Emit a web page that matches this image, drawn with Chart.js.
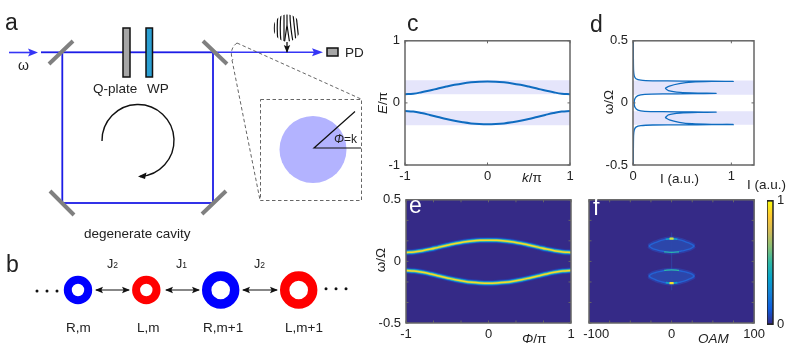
<!DOCTYPE html>
<html>
<head>
<meta charset="utf-8">
<title>Cavity band structure</title>
<script src="https://cdn.jsdelivr.net/npm/chart.js@4"></script>
<style>
  html, body { margin: 0; padding: 0; background: #fff; }
  #page { position: relative; width: 789px; height: 350px; overflow: hidden; font-family: "Liberation Sans", Arial, sans-serif; }
  canvas { position: absolute; }
  svg { position: absolute; left: 0; top: 0; }
  svg text { font-family: "Liberation Sans", Arial, sans-serif; fill: #222; }
</style>
</head>
<body>
<div id="page">
  <canvas id="chartC"></canvas>
  <canvas id="chartD"></canvas>
  <canvas id="chartE"></canvas>
  <canvas id="chartF"></canvas>
  <canvas id="chartBar"></canvas>

  <svg width="789" height="350" viewBox="0 0 789 350">
    <defs>
      <marker id="head" viewBox="0 0 8 8" refX="7" refY="4" markerWidth="8" markerHeight="8" markerUnits="userSpaceOnUse" orient="auto-start-reverse">
        <path d="M0 0.8 L8 4 L0 7.2 L1.6 4 Z" fill="#111"/>
      </marker>
      <clipPath id="fringeClip"><circle cx="287" cy="28" r="13.5"/></clipPath>
    </defs>

    <!-- a: cavity -->
    <text x="5" y="30" font-size="23">a</text>
    <path d="M9 52.5 H33" stroke="#3535f5" stroke-width="1.6"/>
    <path d="M28 48.5 L38 52.5 L28 56.5 L30 52.5 Z" fill="#3535f5"/>
    <rect x="62.3" y="52.3" width="150.7" height="150.7" fill="none" stroke="#1c1ce6" stroke-width="1.8"/>
    <path d="M41 52.3 H62" stroke="#1c1ce6" stroke-width="1.8"/>
    <path d="M213 52.3 H316" stroke="#3535f5" stroke-width="1.6"/>
    <path d="M312 48.3 L323 52.3 L312 56.3 L314 52.3 Z" fill="#3535f5"/>
    <path d="M49 64 L73 41 M203 41 L227 64 M50 191 L74 215 M202 214 L226 191" stroke="#808080" stroke-width="4" fill="none"/>
    <rect x="123" y="28" width="7" height="49" fill="#a6a6a6" stroke="#111" stroke-width="1.5"/>
    <rect x="146" y="28" width="6.5" height="49" fill="#2b9fd2" stroke="#111" stroke-width="1.5"/>
    <text x="93" y="93" font-size="13.5">Q-plate</text>
    <text x="147" y="93" font-size="13.5">WP</text>
    <text x="18" y="70" font-size="14">ω</text>
    <path d="M102 141 A36 36 0 1 1 140 176.5" fill="none" stroke="#111" stroke-width="1.4"/>
    <path d="M138 176.5 L146.5 172.5 L145 179 Z" fill="#111"/>
    <text x="84" y="238" font-size="13.5">degenerate cavity</text>

    <!-- a: forked fringes and detector -->
    <g clip-path="url(#fringeClip)" fill="none" stroke="#111" stroke-width="1.2">
      <path d="M275 14 Q273.5 28 275 42"/>
      <path d="M278 14 Q276.5 28 278 42"/>
      <path d="M281 14 Q279.5 28 281 42"/>
      <path d="M284 14 Q284 25 284 42"/>
      <path d="M287 14 V25 L284.5 42 M287 25 L289.5 42"/>
      <path d="M290 14 Q290 25 293 42"/>
      <path d="M293 14 Q294.5 28 296 42"/>
      <path d="M296 14 Q297.5 28 299 42"/>
    </g>
    <path d="M287 42 V52" stroke="#111" stroke-width="1.3" marker-end="url(#head)"/>
    <rect x="327" y="48" width="11" height="8" fill="#a6a6a6" stroke="#111" stroke-width="1.5"/>
    <text x="345" y="57" font-size="13.5">PD</text>

    <!-- a: zoomed aperture -->
    <g fill="none" stroke="#555" stroke-width="0.9" stroke-dasharray="3.5 2.5">
      <path d="M237 43 C231 47 230 55 233 60"/>
      <path d="M237 43 L361 99"/>
      <path d="M232 60 L260 200"/>
      <rect x="260.5" y="99.5" width="101" height="101"/>
    </g>
    <circle cx="313" cy="149.5" r="33.5" fill="#b3b3ff"/>
    <path d="M355 111.5 L314 148 H361" fill="none" stroke="#111" stroke-width="1.2"/>
    <text x="334" y="143" font-size="12"><tspan font-style="italic">Φ</tspan>=k</text>

    <!-- b: chain of modes -->
    <text x="6" y="272" font-size="23">b</text>
    <circle cx="78" cy="290" r="10.2" fill="none" stroke="#0000ff" stroke-width="8"/>
    <circle cx="146.3" cy="290" r="10.2" fill="none" stroke="#ff0000" stroke-width="8"/>
    <circle cx="220.7" cy="290" r="14" fill="none" stroke="#0000ff" stroke-width="9.4"/>
    <circle cx="298.7" cy="290" r="14" fill="none" stroke="#ff0000" stroke-width="9.4"/>
    <g fill="#111">
      <circle cx="37" cy="291" r="1.5"/><circle cx="47" cy="291" r="1.5"/><circle cx="57" cy="291" r="1.5"/>
      <circle cx="326" cy="288.7" r="1.5"/><circle cx="336" cy="288.7" r="1.5"/><circle cx="346" cy="288.7" r="1.5"/>
    </g>
    <g stroke="#111" stroke-width="1.2">
      <path d="M96 290 H129" marker-start="url(#head)" marker-end="url(#head)"/>
      <path d="M166 290 H199" marker-start="url(#head)" marker-end="url(#head)"/>
      <path d="M243 290 H277" marker-start="url(#head)" marker-end="url(#head)"/>
    </g>
    <text x="107" y="268" font-size="12.5">J<tspan font-size="8.5">2</tspan></text>
    <text x="176" y="268" font-size="12.5">J<tspan font-size="8.5">1</tspan></text>
    <text x="254" y="268" font-size="12.5">J<tspan font-size="8.5">2</tspan></text>
    <text x="66" y="332" font-size="13.5">R,m</text>
    <text x="137" y="332" font-size="13.5">L,m</text>
    <text x="203" y="332" font-size="13.5">R,m+1</text>
    <text x="285" y="332" font-size="13.5">L,m+1</text>

    <!-- panel letters and axis titles -->
    <text x="407" y="31" font-size="23">c</text>
    <text x="590" y="32" font-size="23">d</text>
    <text x="409" y="213" font-size="23" style="fill:#fff">e</text>
    <text x="593" y="215" font-size="23" style="fill:#fff">f</text>
    <text transform="translate(387 103) rotate(-90)" text-anchor="middle" font-size="13.5"><tspan font-style="italic">E</tspan>/π</text>
    <text x="522" y="182" font-size="13.5"><tspan font-style="italic">k</tspan>/π</text>
    <text transform="translate(613 102) rotate(-90)" text-anchor="middle" font-size="13.5">ω/Ω</text>
    <text x="660" y="183" font-size="13.5">I (a.u.)</text>
    <text transform="translate(385 260) rotate(-90)" text-anchor="middle" font-size="13.5">ω/Ω</text>
    <text x="522" y="343" font-size="13.5"><tspan font-style="italic">Φ</tspan>/π</text>
    <text x="698" y="343" font-size="13.5" font-style="italic">OAM</text>
    <text x="747" y="189" font-size="13.5">I (a.u.)</text>
  </svg>
</div>

<script>
// values
const kValues = [-1, -0.9, -0.8, -0.7, -0.6, -0.5, -0.4, -0.3, -0.2, -0.1, 0, 0.1, 0.2, 0.3, 0.4, 0.5, 0.6, 0.7, 0.8, 0.9, 1];
const bandUpper = [0.14, 0.148, 0.171, 0.2, 0.232, 0.263, 0.291, 0.314, 0.331, 0.342, 0.345, 0.342, 0.331, 0.314, 0.291, 0.263, 0.232, 0.2, 0.171, 0.148, 0.14];
const bandLower = [-0.13, -0.139, -0.163, -0.194, -0.227, -0.26, -0.289, -0.312, -0.33, -0.34, -0.344, -0.34, -0.33, -0.312, -0.289, -0.26, -0.227, -0.194, -0.163, -0.139, -0.13];
const shadeC = [[0.365, 0.14], [-0.13, -0.36]];

const dIntensity = [0.003, 0.004, 0.006, 0.012, 0.03, 0.08, 0.2, 0.5, 0.8, 1.02, 0.8, 0.6, 0.47, 0.37, 0.33, 0.36, 0.48, 0.66, 0.845, 0.6, 0.3, 0.12, 0.05, 0.02, 0.012, 0.02, 0.05, 0.12, 0.3, 0.6, 0.845, 0.66, 0.48, 0.36, 0.33, 0.37, 0.47, 0.6, 0.8, 1.02, 0.8, 0.5, 0.2, 0.08, 0.03, 0.012, 0.006, 0.004, 0.003];
const dOmega = [0.5, 0.35, 0.26, 0.22, 0.195, 0.183, 0.178, 0.176, 0.175, 0.174, 0.173, 0.168, 0.155, 0.135, 0.117, 0.098, 0.084, 0.079, 0.077, 0.074, 0.072, 0.068, 0.058, 0.035, 0, -0.035, -0.058, -0.068, -0.071, -0.073, -0.075, -0.077, -0.083, -0.097, -0.118, -0.137, -0.156, -0.168, -0.173, -0.174, -0.175, -0.177, -0.178, -0.183, -0.195, -0.22, -0.26, -0.35, -0.5];
const shadeD = [[0.181, 0.066], [-0.068, -0.176]];

const phiValues = [-1, -0.9, -0.8, -0.7, -0.6, -0.5, -0.4, -0.3, -0.2, -0.1, 0, 0.1, 0.2, 0.3, 0.4, 0.5, 0.6, 0.7, 0.8, 0.9, 1];
const ridgeUpper = [0.073, 0.077, 0.087, 0.1, 0.116, 0.131, 0.146, 0.158, 0.166, 0.171, 0.172, 0.171, 0.166, 0.158, 0.146, 0.131, 0.116, 0.1, 0.087, 0.077, 0.073];
const ridgeLower = [-0.074, -0.078, -0.088, -0.102, -0.118, -0.134, -0.149, -0.161, -0.17, -0.175, -0.177, -0.175, -0.17, -0.161, -0.149, -0.134, -0.118, -0.102, -0.088, -0.078, -0.074];

const oamValues = [-27.7, -24, -20, -15, -10, -5, 0, 5, 10, 15, 20, 24, 27.7];
const lensTopA = [0.125, 0.14, 0.152, 0.165, 0.175, 0.182, 0.185, 0.182, 0.175, 0.165, 0.152, 0.14, 0.125];
const lensBotA = [0.125, 0.108, 0.097, 0.088, 0.082, 0.076, 0.074, 0.076, 0.082, 0.088, 0.097, 0.108, 0.125];
const lensTopB = [-0.119, -0.102, -0.092, -0.083, -0.076, -0.071, -0.069, -0.071, -0.076, -0.083, -0.092, -0.102, -0.119];
const lensBotB = [-0.119, -0.135, -0.147, -0.16, -0.169, -0.175, -0.177, -0.175, -0.169, -0.16, -0.147, -0.135, -0.119];

const parula = ['#352a87', '#0f5cdd', '#1481d6', '#06a4ca', '#2eb7a4', '#87bf77', '#d1bb59', '#fec832', '#f9fb0e'];

Chart.defaults.font.family = '"Liberation Sans", Arial, sans-serif';
Chart.defaults.font.size = 13;
Chart.defaults.color = '#222';

const BAND_FILL = '#e5e5fb';
const LINE_BLUE = '#0f6cc0';
const BG_DARK = '#352a87';

// plot background, frame and inward tick marks
const framePlugin = {
  id: 'frame',
  beforeDatasetsDraw(chart, args, opts) {
    if (!opts.background) return;
    const a = chart.chartArea;
    chart.ctx.fillStyle = opts.background;
    chart.ctx.fillRect(a.left, a.top, a.width, a.height);
  },
  afterDatasetsDraw(chart, args, opts) {
    const a = chart.chartArea;
    const ctx = chart.ctx;
    ctx.save();
    ctx.strokeStyle = opts.color || '#666';
    ctx.lineWidth = 1;
    ctx.beginPath();
    chart.scales.x.ticks.forEach(t => {
      const px = chart.scales.x.getPixelForValue(t.value);
      ctx.moveTo(px, a.top); ctx.lineTo(px, a.top + 2.5);
      ctx.moveTo(px, a.bottom); ctx.lineTo(px, a.bottom - 2.5);
    });
    chart.scales.y.ticks.forEach(t => {
      const py = chart.scales.y.getPixelForValue(t.value);
      ctx.moveTo(a.left, py); ctx.lineTo(a.left + 2.5, py);
      ctx.moveTo(a.right, py); ctx.lineTo(a.right - 2.5, py);
    });
    ctx.stroke();
    ctx.lineWidth = 1.5;
    ctx.strokeRect(a.left, a.top, a.width, a.height);
    ctx.restore();
  }
};

function xy(xs, ys) {
  return xs.map((x, i) => ({ x: x, y: ys[i] }));
}

function shade(range, xMin, xMax) {
  // one filled strip between two flat lines
  return [
    { data: [{ x: xMin, y: range[0] }, { x: xMax, y: range[0] }], borderWidth: 0, pointRadius: 0, showLine: true, fill: '+1', backgroundColor: BAND_FILL },
    { data: [{ x: xMin, y: range[1] }, { x: xMax, y: range[1] }], borderWidth: 0, pointRadius: 0, showLine: true }
  ];
}

function curve(points, color, width, tension) {
  return { data: points, borderColor: color, borderWidth: width, pointRadius: 0, showLine: true, fill: false, tension: tension === undefined ? 0.4 : tension };
}

function axis(min, max, tickValues, labelValues, fixedSize, vertical, labelText) {
  return {
    type: 'linear',
    min: min,
    max: max,
    grid: { display: false, drawTicks: false },
    border: { display: false },
    ticks: {
      autoSkip: false,
      maxRotation: 0,
      padding: vertical ? 5 : 4,
      callback: v => labelValues.includes(v) ? (labelText ? labelText(v) : String(v)) : ''
    },
    afterBuildTicks: s => { s.ticks = tickValues.map(v => ({ value: v })); },
    afterFit: s => {
      if (vertical) s.width = fixedSize; else s.height = fixedSize;
    }
  };
}

function panel(id, plot, datasets, xAxis, yAxis, background) {
  const canvas = document.getElementById(id);
  const gutterLeft = 40, gutterTop = 10, gutterRight = 14, gutterBottom = 22;
  canvas.width = plot.w + gutterLeft + gutterRight;
  canvas.height = plot.h + gutterTop + gutterBottom;
  canvas.style.left = (plot.x - gutterLeft) + 'px';
  canvas.style.top = (plot.y - gutterTop) + 'px';
  // chart.js paints the first dataset last, so flip it: listed order = paint order
  datasets.forEach((d, i) => { d.order = datasets.length - i; });
  return new Chart(canvas.getContext('2d'), {
    type: 'scatter',
    data: { datasets: datasets },
    options: {
      responsive: false,
      animation: false,
      layout: { padding: { top: gutterTop, right: gutterRight } },
      plugins: {
        legend: { display: false },
        tooltip: { enabled: false },
        frame: { background: background }
      },
      scales: { x: xAxis, y: yAxis }
    },
    plugins: [framePlugin]
  });
}

// c: band structure
panel('chartC', { x: 405, y: 38, w: 165, h: 127 }, [
  ...shade(shadeC[0], -1, 1),
  ...shade(shadeC[1], -1, 1),
  curve(xy(kValues, bandUpper), LINE_BLUE, 2),
  curve(xy(kValues, bandLower), LINE_BLUE, 2)
], axis(-1, 1, [-1, 0, 1], [-1, 0, 1], 22, false), axis(-1, 1, [-1, 0, 1], [-1, 0, 1], 40, true));

// d: transmission spectrum
panel('chartD', { x: 633, y: 38, w: 121, h: 127 }, [
  ...shade(shadeD[0], 0, 1.23),
  ...shade(shadeD[1], 0, 1.23),
  curve(xy(dIntensity, dOmega), LINE_BLUE, 1.3, 0.15)
], axis(0, 1.23, [0, 1], [0, 1], 22, false), axis(-0.5, 0.5, [-0.5, 0, 0.5], [-0.5, 0, 0.5], 40, true));

// e: measured band, each ridge is stacked so it fades out like the colour map
const ridgeLayers = [[6.5, 'rgba(30,70,190,0.5)'], [4.5, '#1668d8'], [3.4, '#12a0c8'], [2.6, '#58bd8c'], [1.5, '#f6d92a']];
const ridgeSets = [];
[ridgeUpper, ridgeLower].forEach(ridge => {
  ridgeLayers.forEach(layer => ridgeSets.push(curve(xy(phiValues, ridge), layer[1], layer[0])));
});
panel('chartE', { x: 406, y: 197, w: 165, h: 126 }, ridgeSets,
  axis(-1, 1, [-1, -0.667, -0.333, 0, 0.333, 0.667, 1], [-1, 0, 1], 22, false),
  axis(-0.5, 0.5, [-0.5, -0.333, -0.167, 0, 0.167, 0.333, 0.5], [-0.5, 0, 0.5], 40, true),
  BG_DARK);

// f: OAM resolved band, hot spots sit on the lens rims at OAM 0
function lens(top, bottom) {
  const glow = 'rgba(40,85,200,0.45)';
  const rim = 'rgba(34,105,220,0.85)';
  return [
    curve(xy(oamValues, top), glow, 4.5),
    curve(xy(oamValues, bottom), glow, 4.5),
    { ...curve(xy(oamValues, top), rim, 1.4), fill: '+1', backgroundColor: 'rgba(44,72,172,0.95)' },
    curve(xy(oamValues, bottom), rim, 1.4)
  ];
}
panel('chartF', { x: 589, y: 197, w: 166, h: 126 }, [
  curve(xy([0, 0], [0.235, -0.235]), 'rgba(45,75,175,0.55)', 1.2, 0),
  ...lens(lensTopA, lensBotA),
  ...lens(lensTopB, lensBotB),
  curve(xy([-7, 0, 7], [0.18, 0.185, 0.18]), '#12a0c8', 1.6),
  curve(xy([-2.5, 0, 2.5], [0.184, 0.185, 0.184]), '#d8e040', 2.2),
  curve(xy([-9, 0, 9], [0.078, 0.074, 0.078]), '#2eb7a4', 1.2),
  curve(xy([-9, 0, 9], [-0.073, -0.069, -0.073]), '#2eb7a4', 1.2),
  curve(xy([-7, 0, 7], [-0.172, -0.177, -0.172]), '#12a0c8', 1.6),
  curve(xy([-2.5, 0, 2.5], [-0.176, -0.177, -0.176]), '#f6e02a', 2.2)
],
  // the leading spaces push the -100 label clear of the neighbouring panel
  axis(-100, 100, [-100, -75, -50, -25, 0, 25, 50, 75, 100], [-100, 0, 100], 22, false, v => v === -100 ? '    -100' : String(v)),
  axis(-0.5, 0.5, [-0.5, -0.333, -0.167, 0, 0.167, 0.333, 0.5], [], 40, true),
  BG_DARK);

// colour bar
(function () {
  const canvas = document.getElementById('chartBar');
  canvas.width = 34; canvas.height = 147;
  canvas.style.left = '767px';
  canvas.style.top = '189px';
  new Chart(canvas.getContext('2d'), {
    type: 'bar',
    data: {
      labels: ['I'],
      datasets: [{
        data: [1],
        categoryPercentage: 1,
        barPercentage: 1,
        backgroundColor: c => {
          const a = c.chart.chartArea;
          if (!a) return parula[0];
          const g = c.chart.ctx.createLinearGradient(0, a.bottom, 0, a.top);
          parula.forEach((col, i) => g.addColorStop(i / (parula.length - 1), col));
          return g;
        }
      }]
    },
    options: {
      responsive: false,
      animation: false,
      layout: { padding: { top: 10, bottom: 10 } },
      plugins: { legend: { display: false }, tooltip: { enabled: false }, frame: { color: '#222' } },
      scales: {
        x: { display: false, afterBuildTicks: s => { s.ticks = []; } },
        y: {
          type: 'linear', position: 'right', min: 0, max: 1,
          grid: { display: false, drawTicks: false },
          border: { display: false },
          ticks: { padding: 4, callback: v => (v === 0 || v === 1) ? String(v) : '' },
          afterBuildTicks: s => { s.ticks = [{ value: 0 }, { value: 1 }]; },
          afterFit: s => { s.width = 28; }
        }
      }
    },
    plugins: [framePlugin]
  });
})();
</script>
</body>
</html>
